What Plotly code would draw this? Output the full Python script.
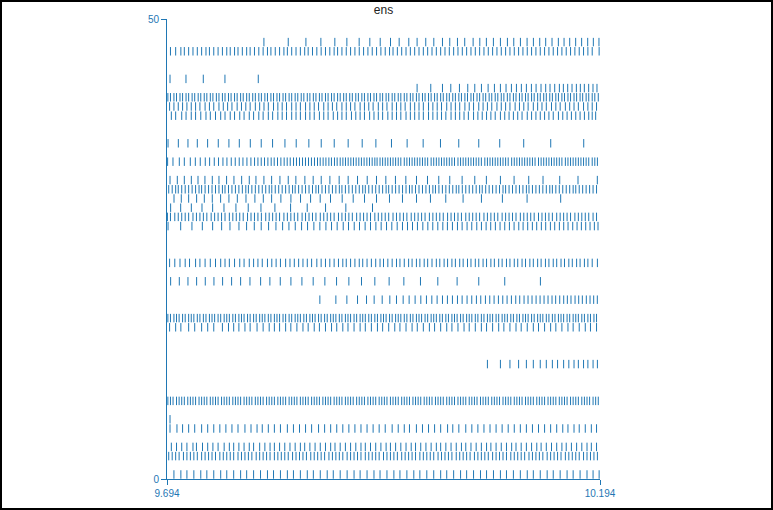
import plotly.graph_objects as go

T0 = 9.694
T1 = 10.194

# spike times in ms after T0, per neuron (row index)
r0 = [8,16,23,31,39,46,54,62,69,77,85,92,100,108,116,123,131,139,146,154,162,169,177,185,192,200,208,216,223,231,239,246,254,262,269,277,285,292,300,308,316,323,331,339,346,354,362,369,377,385,392,400,408,416,423,431,439,446,454,462,469,477,485,492,499]
r2 = [2,6,10,14,19,23,27,31,35,40,44,48,52,56,61,65,69,73,77,82,86,90,94,98,103,107,111,115,119,124,128,132,136,140,145,149,153,157,161,166,170,174,178,182,187,191,195,199,203,208,212,216,220,224,229,233,237,241,245,250,254,258,262,266,271,275,279,283,287,292,296,300,304,308,313,317,321,325,329,334,338,342,346,350,355,359,363,367,371,376,380,384,388,392,397,401,405,409,413,418,422,426,430,434,439,443,447,451,455,460,464,468,472,476,481,485,489,493,497]
r3 = [5,11,17,23,30,34,41,47,53,59,66,72,77,83,89,95,100,107,113,119,124,130,136,142,148,154,159,165,171,177,183,189,194,200,206,212,218,224,229,235,241,247,253,258,264,270,276,282,287,293,299,305,311,316,322,328,334,340,345,351,357,363,369,374,380,386,392,398,403,409,415,421,427,432,438,444,450,456,461,467,473,479,485,490,496]
r5 = [3.5,11.5,18,25,32,40,47,54,61,68,75,82,90,97,104,110,117,124,131,139,146,153,160,167,175,182,189,196,203,210,217,224,231,238,245,252,260,267,274,280,288,295,302,309,316,324,330,337,345,352,359,366,373,380,387,394,401,408,415,422,429,436,443,450,457,463,470,476,483,490,496]
r6 = [3.5]
r8 = [1,4,7,11,14,17,20,24,27,30,33,37,40,43,46,50,53,56,59,63,66,69,72,76,79,82,85,89,92,95,98,102,105,108,111,115,118,121,124,128,131,134,137,141,144,147,150,154,157,160,163,167,170,173,176,180,183,186,189,193,196,199,202,206,209,212,215,219,222,225,228,232,235,238,241,245,248,251,254,258,261,264,267,271,274,277,280,284,287,290,293,297,300,303,306,310,313,316,319,323,326,329,332,336,339,342,345,349,352,355,358,362,365,368,371,375,378,381,384,388,391,394,397,401,404,407,410,414,417,420,423,427,430,433,436,440,443,446,449,453,456,459,462,466,469,472,475,479,482,485,488,492,495,498]
r12 = [370,385,396,406,415,423,431,438,445,451,458,464,470,475,481,486,492,497]
r16 = [3,10,16,25,32,40,47,54,64,71,77,83,90,96,104,111,118,124,130,137,143,150,157,163,170,176,183,190,196,203,209,216,223,229,236,243,249,256,263,269,276,283,289,296,303,309,316,323,329,336,343,349,356,363,369,376,383,389,396,403,409,416,423,429,436,443,449,456,463,469,476,483,489,496]
r17 = [1,4,8,11,14,18,21,25,28,31,35,38,42,45,49,52,55,59,62,66,69,72,76,79,83,86,89,93,96,100,103,107,110,113,117,120,124,127,130,134,137,141,144,148,151,154,158,161,165,168,171,175,178,182,185,189,192,195,199,202,206,209,212,216,219,223,226,229,233,236,240,243,247,250,253,257,260,264,267,270,274,277,281,284,288,291,294,298,301,305,308,311,315,318,322,325,329,332,335,339,342,346,349,352,356,359,363,366,370,373,376,380,383,387,390,393,397,400,404,407,411,414,417,421,424,428,431,434,438,441,445,448,452,455,458,462,465,469,472,475,479,482,486,489,493,496]
r19 = [176.5,195,207.7,220,230.4,239.2,248.5,257.3,265,272.7,279.6,286.5,293.1,299.6,305.8,311.9,318.1,323.8,329.6,335.4,340.8,346.5,351.9,357.3,362.3,367.7,372.7,377.7,382.7,387.7,392.7,397.7,402.7,407.3,412.3,416.9,421.5,426.2,430.8,435.4,440,444.6,448.8,453.5,458.1,462.3,466.5,471.2,475.4,479.6,484.2,488.5,492.7,496.9]
r21 = [4.2,14.2,24.2,34.2,44.2,54.2,64.2,74.6,85,95.8,108.1,118.8,130.8,143.1,155.8,168.8,182.3,195.8,210,224.6,240,256.5,273.5,292.7,312.7,335,360,390,431.2]
r23 = [3,9,15,21,26,33,38,44,50,56,62,67,72,78,84,89,95,100,105,110,116,121,126,131,137,142,147,152,157,162,167,173,178,183,188,193,198,203,207,212,217,222,226,231,236,241,246,250,255,260,265,269,274,279,283,288,292,297,301,306,311,315,320,324,329,333,338,342,347,351,356,360,365,369,374,378,383,387,392,396,401,405,410,414,419,423,428,432,437,441,446,450,455,459,464,468,473,477,482,486,491,497]
r27 = [1.2,15.8,28.8,40.8,52.7,63.1,72.7,83.1,91.9,100.8,108.8,117.3,125.8,133.5,140.8,148.1,155.4,162.3,169.6,176.5,183.5,190,196.5,203.5,209.6,216.2,222.3,228.8,235,241.2,247.3,253.5,259.6,265.8,271.9,277.7,283.5,289.2,295.4,301.2,306.9,312.7,318.5,323.8,329.6,335.4,340.8,346.5,351.9,357.7,363.1,368.5,373.8,379.2,384.6,390,395.4,400.8,406.2,411.2,416.5,421.9,426.9,432.3,437.3,442.7,447.7,453.1,458.1,463.1,468.5,473.5,478.5,483.5,488.5,493.5,497.7]
r28 = [0.5,4,9,13,17,21,25,30,34,38,42,46,51,55,59,63,67,72,76,80,84,88,93,97,101,105,109,114,118,122,126,130,135,139,143,147,151,156,160,164,168,172,177,181,185,189,193,198,202,206,210,214,219,223,227,231,235,240,244,248,252,256,261,265,269,273,277,282,286,290,294,298,303,307,311,315,319,324,328,332,336,340,345,349,353,357,361,366,370,374,378,382,387,391,395,399,403,408,412,416,420,424,429,433,437,441,445,450,454,458,462,466,471,475,479,483,487,492,496]
r29 = [4.2,15.8,28.1,40.4,52.7,65.8,79.6,93.8,108.5,124.6,142.7,161.9,183.1,206.5,237.3]
r30 = [8.1,16.5,25,34.2,43.1,52.3,61.9,71.5,81.2,91.2,101.5,111.2,120.8,131.5,143.1,154.2,165.8,176.9,188.8,202.3,215,228.1,241.9,256.9,271.9,288.1,304.2,321.9,341.9,363.1,387.3,415.8,454.6]
r31 = [2,6,10,13,17,21,25,29,33,37,40,44,48,52,56,60,64,67,71,75,79,83,87,91,94,98,102,106,110,114,118,121,125,129,133,137,141,145,148,152,156,160,164,168,172,175,179,183,187,191,195,199,202,206,210,214,218,222,226,229,233,237,241,245,249,253,256,260,264,268,272,276,280,283,287,291,295,299,303,307,310,314,318,322,326,330,334,337,341,345,349,353,357,361,364,368,372,376,380,384,388,391,395,399,403,407,411,415,418,422,426,430,434,438,442,445,449,453,457,461,465,469,472,476,480,484,488,492,496]
r32 = [3.5,11.9,20,28.1,35.8,43.8,52.3,60,68.8,77.3,86.2,95,102.7,111.9,120.8,130.4,140,148.8,159.2,168.8,178.1,188.1,198.8,209.2,220,231.2,241.9,252.7,263.8,275.8,288.1,300.8,313.8,326.5,340.8,355.4,368.8,385,400.8,417.7,434.2,453.5,474.6,496.9]
r34 = [0.7,6.9,14.2,20,26.9,32.7,38.4,44.2,49.2,54.6,59.5,64.6,69.2,74.2,78.8,83.4,87.7,92.3,96.9,101.1,105,108.8,112.6,116.5,120.3,123.8,127.6,131.5,135.3,138.8,142.3,146.1,149.5,153,156.5,159.9,163.4,166.8,170.3,173.8,176.9,180.3,183.5,186.9,189.9,193.4,196.5,200,203.1,206.1,209.2,212.3,215.3,218.4,221.5,224.5,227.6,230.8,233.8,236.9,240,242.6,246,249,252,255,258,261,264,267,270,274,277,280,283,286,289,292,295,298,301,305,308,311,314,317,320,323,326,329,332,336,339,342,345,348,351,354,357,360,363,367,370,373,376,379,382,385,388,391,394,398,401,404,407,410,413,416,419,422,425,429,432,435,438,441,444,447,450,453,456,460,463,466,469,472,475,478,481,484,487,491,494,497]
r36 = [1.2,13.1,24.2,35,46.9,59.2,71.5,83.5,96.2,108.8,121.9,136.2,149.2,163.8,178.1,193.1,209.2,225.4,241.2,259.2,277.3,295.8,315.8,336.9,360,384.2,411.9,443.1,481.2]
r39 = [5,10,17,22,28,33,39,45,50,56,62,67,73,78,84,89,95,100,106,111,117,122,128,133,138,144,149,154,160,165,170,176,181,186,192,197,202,207,213,218,223,228,234,239,244,249,255,260,265,270,276,281,286,291,296,302,307,312,317,322,328,333,338,343,348,354,359,364,369,374,379,385,390,395,400,405,410,416,421,426,431,436,441,446,452,457,462,467,472,477,482,487,491,495]
r40 = [3,8,13,18,23,28,33,38,44,49,54,60,65,70,75,81,86,91,96,102,107,112,117,123,128,133,138,144,149,154,160,165,170,175,181,186,191,196,202,207,212,217,223,228,233,238,244,249,254,260,265,270,275,281,286,291,296,302,307,312,317,323,328,333,338,344,349,354,360,365,370,375,381,386,391,396,402,407,412,417,423,428,433,438,444,449,454,460,465,470,475,481,486,491,496]
r41 = [1,4,8,11,15,18,22,25,29,32,36,39,43,46,50,53,57,60,64,67,71,74,78,81,85,88,92,95,99,102,106,109,113,116,120,123,127,130,134,137,141,144,148,151,155,158,162,165,169,172,176,179,183,186,190,193,197,200,204,207,211,214,218,221,225,228,232,235,239,242,246,249,253,256,260,263,267,270,274,277,281,284,288,291,295,298,302,305,309,312,316,319,323,326,330,333,337,340,344,347,351,354,358,361,365,368,372,375,379,382,386,389,393,396,400,403,407,410,414,417,421,424,428,431,435,438,442,445,449,452,456,459,463,466,470,473,477,480,484,487,491,494,498]
r42 = [288.8,304.6,318.1,327.7,337.7,347.3,355.4,363.1,370.8,378.1,385,391.5,397.7,403.5,409.2,415,420.8,426.2,431.9,437.3,442.3,447.7,453.1,457.7,462.7,467.7,472.7,477.3,481.9,486.9,491.9,496.5]
r43 = [3.5,21.9,41.9,66.9,105.4]
r46 = [4,10,16,20,25,30,35,40,45,49,54,59,64,69,73,78,82,87,92,96,101,106,111,116,120,125,130,135,139,144,149,154,159,163,168,173,178,183,188,193,197,202,207,212,217,222,227,232,237,242,247,252,257,261,266,271,276,281,286,291,296,301,306,311,316,321,326,331,336,341,346,351,356,361,366,371,376,381,386,391,396,401,406,411,416,421,426,431,436,441,446,451,456,461,466,471,476,481,486,491,499]
r47 = [111.9,140,160.4,177.7,193.8,207.7,221.9,234.2,246.2,258.1,268.1,279.2,288.8,298.8,308.1,318.1,326.5,335.4,343.8,353.5,361.2,368.8,376.9,385,393.1,400.4,408.1,415.8,423.1,430.4,437.3,444.6,451.9,458.5,465,471.9,478.8,485.8,492.3,498.8]

neurons = [0, 2, 3, 5, 6, 8, 12, 16, 17, 19, 21, 23, 27, 28, 29, 30, 31, 32, 34, 36, 39, 40, 41, 42, 43, 46, 47]
trains = [r0, r2, r3, r5, r6, r8, r12, r16, r17, r19, r21, r23, r27, r28, r29, r30, r31, r32, r34, r36, r39, r40, r41, r42, r43, r46, r47]

x_ticks = [T0, T1]
x_labels = ["9.694", "10.194"]
y_ticks = [0, 50]
y_labels = ["0", "50"]

xs, ys = [], []
for n, train in zip(neurons, trains):
    for t in train:
        tt = T0 + t / 1000.0
        xs += [tt, tt, None]
        ys += [n + 0.03, n + 0.95, None]

blue = "#1f77b4"
fig = go.Figure(go.Scatter(x=xs, y=ys, mode="lines",
                           line=dict(color=blue, width=1),
                           hoverinfo="skip", showlegend=False))

W, H = 773, 510
ml, mr, mt, mb = 167, 173, 19, 31
pw, ph = W - ml - mr, H - mt - mb

fig.update_layout(
    width=W, height=H,
    margin=dict(l=ml, r=mr, t=mt, b=mb, pad=0),
    paper_bgcolor="white", plot_bgcolor="white",
    font=dict(family="Liberation Sans, Arial, sans-serif", size=10, color=blue),
    title=dict(text="ens", x=0.5, xref="paper", xanchor="center",
               y=1 - 10 / H, yref="container", yanchor="middle",
               font=dict(size=12, color="#222222")),
    xaxis=dict(range=[T0, T1], tickvals=x_ticks, ticktext=x_labels,
               showgrid=False, zeroline=False, showline=True,
               linecolor=blue, linewidth=1, ticks="outside", ticklen=5,
               tickcolor=blue, tickfont=dict(size=10, color=blue)),
    yaxis=dict(range=[0, 50], tickvals=y_ticks, ticktext=y_labels,
               showgrid=False, zeroline=False, showline=True,
               linecolor=blue, linewidth=1, ticks="outside", ticklen=5,
               tickcolor=blue, tickfont=dict(size=10, color=blue)),
    shapes=[dict(type="rect", xref="paper", yref="paper",
                 x0=(1 - ml) / pw, x1=(W - 1 - ml) / pw,
                 y0=(H - mb - (H - 1)) / ph, y1=(H - mb - 1) / ph,
                 line=dict(color="black", width=2), fillcolor="rgba(0,0,0,0)",
                 layer="above")],
)

fig.write_html("out.html")
